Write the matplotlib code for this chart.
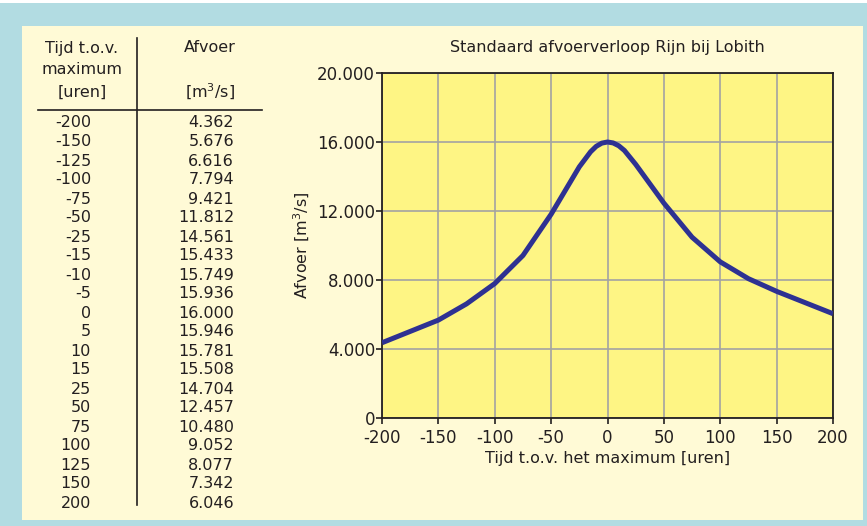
import matplotlib.pyplot as plt
from matplotlib.patches import Rectangle
from matplotlib.lines import Line2D

# Standaard afvoerverloop Rijn bij Lobith
tijd = [-200, -150, -125, -100, -75, -50, -25, -15, -10, -5, 0,
        5, 10, 15, 25, 50, 75, 100, 125, 150, 200]
afvoer = [4362, 5676, 6616, 7794, 9421, 11812, 14561, 15433, 15749, 15936, 16000,
          15946, 15781, 15508, 14704, 12457, 10480, 9052, 8077, 7342, 6046]
x_ticks = [-200, -150, -100, -50, 0, 50, 100, 150, 200]
y_ticks = [0, 4000, 8000, 12000, 16000, 20000]

W, H = 867, 526
FONT = "DejaVu Sans"
TXT = "#231f20"
plt.rcParams["axes.unicode_minus"] = False


def nl(v):
    return f"{v:,}".replace(",", ".")


def fx(px):
    return px / W


def fy(py):
    return 1 - py / H


fig = plt.figure(figsize=(W / 100, H / 100), dpi=100)
fig.patch.set_facecolor("#b2dce2")
fig.patches.append(Rectangle((0, fy(3)), 1, 1 - fy(3), transform=fig.transFigure,
                             facecolor="white", edgecolor="none", zorder=-2))
fig.patches.append(Rectangle((fx(22), fy(520)), fx(863) - fx(22), fy(26) - fy(520),
                             transform=fig.transFigure, facecolor="#fffad6",
                             edgecolor="none", zorder=-2))

# table on the left
fs = 11.5
for txt, py in [("Tijd t.o.v.", 48), ("maximum", 70), ("[uren]", 92)]:
    fig.text(fx(82), fy(py), txt, ha="center", va="center", fontsize=fs,
             family=FONT, color=TXT)
fig.text(fx(210), fy(48), "Afvoer", ha="center", va="center", fontsize=fs,
         family=FONT, color=TXT)
fig.text(fx(210), fy(92), "[m$^3$/s]", ha="center", va="center", fontsize=fs,
         family=FONT, color=TXT)
fig.lines.append(Line2D([fx(137), fx(137)], [fy(38), fy(505)], transform=fig.transFigure,
                        color=TXT, lw=1.2))
fig.lines.append(Line2D([fx(38), fx(262)], [fy(110), fy(110)], transform=fig.transFigure,
                        color=TXT, lw=1.2))
step = (503 - 123) / (len(tijd) - 1)
for i, (t, q) in enumerate(zip(tijd, afvoer)):
    py = 123 + i * step
    fig.text(fx(91), fy(py), str(t), ha="right", va="center", fontsize=fs,
             family=FONT, color=TXT)
    fig.text(fx(234), fy(py), nl(q), ha="right", va="center", fontsize=fs,
             family=FONT, color=TXT)

# chart on the right
ax = fig.add_axes([fx(382), fy(418), fx(833) - fx(382), fy(73) - fy(418)])
ax.set_facecolor("#fef584")
ax.plot(tijd, afvoer, color="#2e3192", lw=3.6, solid_capstyle="butt", zorder=3)
ax.set_xlim(-200, 200)
ax.set_ylim(0, 20000)
ax.set_xticks(x_ticks)
ax.set_yticks(y_ticks)
ax.set_yticklabels([nl(v) for v in y_ticks])
ax.grid(True, color="#a3a3a3", lw=1.2, zorder=1)
ax.set_axisbelow(True)
for s in ax.spines.values():
    s.set_color(TXT)
    s.set_linewidth(1.3)
ax.tick_params(direction="out", length=4, width=1.2, color=TXT,
               labelsize=12, labelcolor=TXT)
ax.tick_params(axis="y", pad=1)
ax.tick_params(axis="x", pad=4)
for lab in ax.get_xticklabels() + ax.get_yticklabels():
    lab.set_family(FONT)
ax.set_title("Standaard afvoerverloop Rijn bij Lobith", fontsize=fs, family=FONT,
             color=TXT, pad=15)
ax.set_xlabel("Tijd t.o.v. het maximum [uren]", fontsize=fs, family=FONT,
              color=TXT, labelpad=3)
ax.set_ylabel("Afvoer [m$^3$/s]", fontsize=fs, family=FONT, color=TXT, labelpad=4)

fig.savefig("out.png", dpi=100, facecolor=fig.get_facecolor())
